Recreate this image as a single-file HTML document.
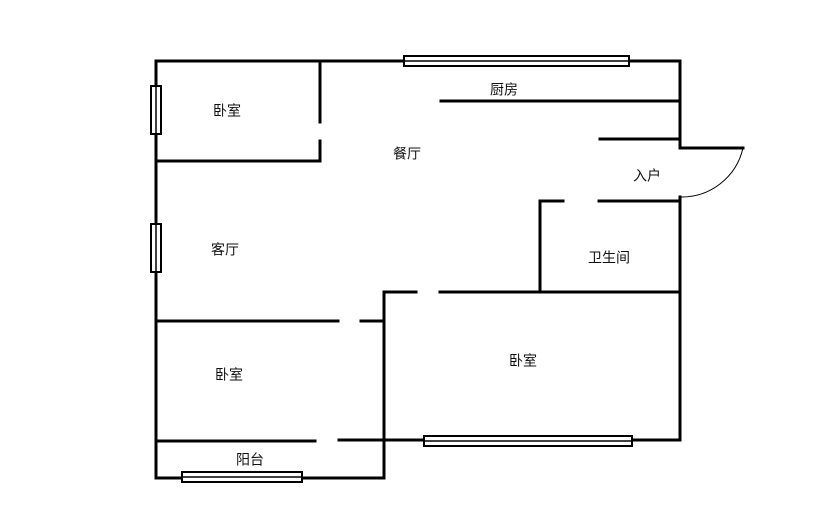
<!DOCTYPE html>
<html><head><meta charset="utf-8"><style>
html,body{margin:0;padding:0;background:#fff;width:814px;height:519px;overflow:hidden}
svg text{font-family:"Liberation Sans","Noto Sans CJK SC",sans-serif;font-size:14px;fill:#111;text-anchor:middle;dominant-baseline:middle}
</style></head><body>
<svg width="814" height="519" viewBox="0 0 814 519" xmlns="http://www.w3.org/2000/svg">
<g stroke="#000" stroke-width="3" fill="none" stroke-linecap="square">
<path d="M156 61 H680 V148 H743"/>
<path d="M680 197 V440 H386"/>
<path d="M156 61 V478 H384 V292 H416"/>
<path d="M440 292 H680"/>
<path d="M540 292 V201 H563"/>
<path d="M599 201 H680"/>
<path d="M320 61 V122 M320 141 V161 H156"/>
<path d="M441 101 H678"/>
<path d="M600 139 H680"/>
<path d="M156 321 H338 M361 321 H384"/>
<path d="M156 441 H315 M339 440 H384"/>
</g>
<path d="M743 148 A63 63 0 0 1 680 197" stroke="#000" stroke-width="1" fill="none"/>
<g stroke="#000" stroke-width="2" fill="#fff">
<rect x="404" y="56" width="225" height="10"/>
<rect x="424" y="436" width="208" height="10"/>
<rect x="182" y="472" width="120" height="10"/>
<rect x="151" y="86" width="10" height="48"/>
<rect x="151" y="224" width="10" height="48"/>
</g>
<g stroke="#000" stroke-width="1.5">
<line x1="404" y1="61" x2="629" y2="61"/>
<line x1="424" y1="441" x2="632" y2="441"/>
<line x1="182" y1="477" x2="302" y2="477"/>
<line x1="156" y1="86" x2="156" y2="134"/>
<line x1="156" y1="224" x2="156" y2="272"/>
</g>
<text x="227" y="112">卧室</text>
<text x="407" y="155">餐厅</text>
<text x="504" y="91">厨房</text>
<text x="647" y="177">入户</text>
<text x="225" y="251">客厅</text>
<text x="609" y="259">卫生间</text>
<text x="229" y="376">卧室</text>
<text x="523" y="362">卧室</text>
<text x="250" y="461">阳台</text>
</svg>
</body></html>
